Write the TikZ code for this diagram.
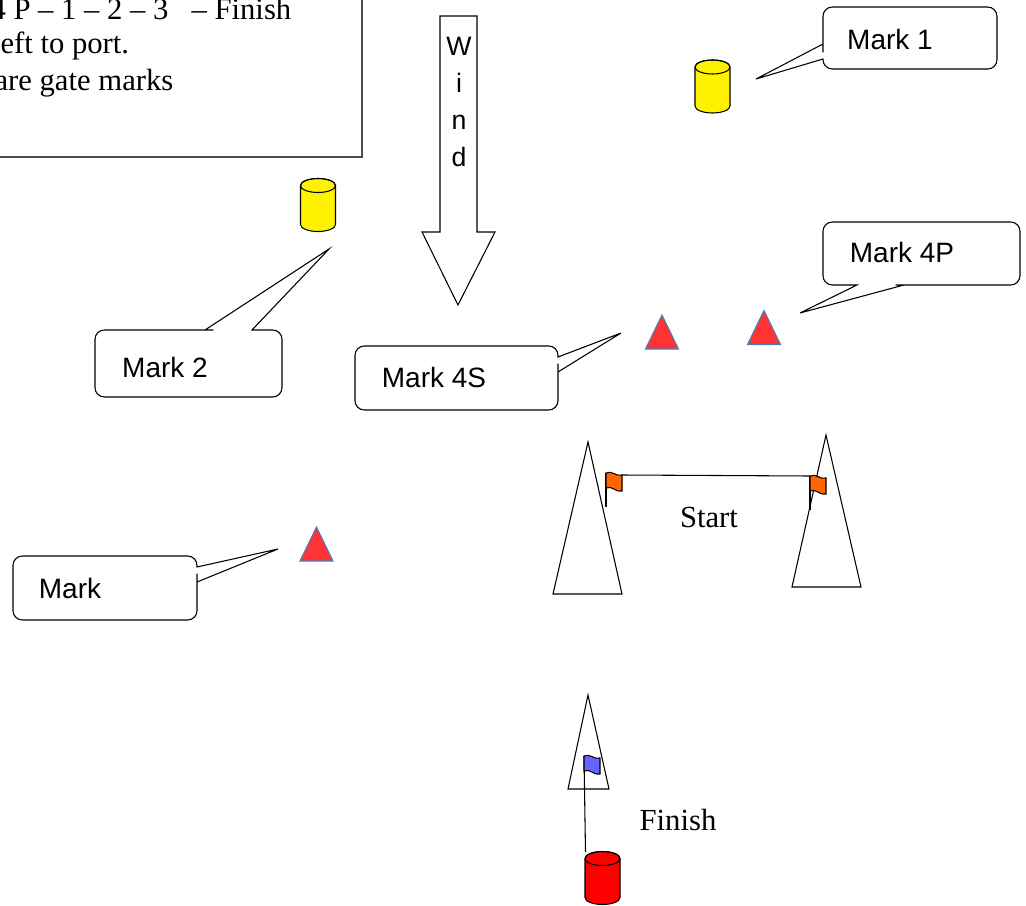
\documentclass[tikz,border=0pt]{standalone}
\usepackage{fontspec}
\setmainfont{Liberation Serif}
\setsansfont{Liberation Sans}

\definecolor{markred}{HTML}{FF3333}
\definecolor{markblue}{HTML}{4A7EBB}
\definecolor{flagorange}{HTML}{FF6600}
\definecolor{flagblue}{HTML}{6666FF}

\tikzset{
  callout/.style={draw, fill=white, line width=0.8pt},
  calltext/.style={font=\sffamily\fontsize{21}{25}\selectfont, inner sep=0pt},
  notetext/.style={font=\fontsize{23}{27}\selectfont, inner sep=0pt},
  gatemark/.style={fill=markred, draw=markblue, line width=0.8pt},
  cone/.style={draw, fill=white, line width=0.8pt},
  pics/buoy/.style={code={
    \draw[fill=#1, line width=0.8pt] (-17.5,-19.5) -- (-17.5,19.5)
      arc[start angle=180, end angle=0, x radius=17.5, y radius=7]
      -- (17.5,-19.5) arc[start angle=0, end angle=-180, x radius=17.5, y radius=7] -- cycle;
    \draw[line width=0.8pt] (0,-19.5) ellipse[x radius=17.5, y radius=7];
  }},
  pics/flag/.style={code={
    \draw[fill=#1, line width=0.8pt] (0,0) .. controls (6,-3) and (10,4) .. (16,2)
      -- (16,18) .. controls (10,20) and (6,12) .. (0,15) -- cycle;
  }}
}

\begin{document}
\begin{tikzpicture}[x=0.75pt, y=-0.75pt, line width=0.8pt]
  \useasboundingbox (0,0) rectangle (1026,906);

  % course note in the top left corner
  \draw[black!70] (-10,-10) rectangle (362,157);
  \node[notetext, anchor=base west] (course) at (-10,20) {4 P – 1 – 2 – 3\ \ \ – Finish};
  \node[notetext, anchor=base west] (port) at (0,54) {eft to port.};
  \node[notetext, anchor=base west] (gate) at (-6,91) {are gate marks};

  % wind arrow
  \draw (440,16) -- (477,16) -- (477,232) -- (495,232) -- (458,305) -- (422,232) -- (440,232) -- cycle;
  \node[font=\sffamily\fontsize{20}{27.75}\selectfont, align=center, inner sep=0pt] (wind) at (459,102) {W\\i\\n\\d};

  % yellow buoys, marks 1 and 2
  \pic at (712.5,86.5) {buoy=yellow};
  \pic at (318,205) {buoy=yellow};

  % red triangles, marks 4S, 4P and 3
  \foreach \x/\y in {662/332, 764/327.5, 316.5/544}
    \draw[gatemark] (\x-16.5,\y+17) -- (\x,\y-17) -- (\x+16.5,\y+17) -- cycle;

  % callouts
  \draw[callout] (823,59.5) [rounded corners=7pt] -- (823,69) -- (997,69) -- (997,7) -- (823,7) -- (823,43)
    [sharp corners] -- (823,44) -- (756,79) -- (823,59) -- cycle;
  \node[calltext] (mark1) at (890,39) {Mark 1};

  \draw[callout] (856,285) [rounded corners=7pt] -- (823,285) -- (823,222) -- (1020,222) -- (1020,285) -- (905,285)
    [sharp corners] -- (904,285) -- (800,313) -- (857,285) -- cycle;
  \node[calltext] (mark4p) at (902,252) {Mark 4P};

  \draw[callout] (558,356) [rounded corners=7pt] -- (558,346) -- (355,346) -- (355,410) -- (558,410) -- (558,373)
    [sharp corners] -- (558,372) -- (621,333) -- (558,357) -- cycle;
  \node[calltext] (mark4s) at (434,377) {Mark 4S};

  \draw[callout] (253,330) [rounded corners=7pt] -- (282,330) -- (282,397) -- (95,397) -- (95,330) -- (204,330)
    [sharp corners] -- (205,330) -- (329,249) -- (252,330) -- cycle;
  \node[calltext] (mark2) at (165,367) {Mark 2};

  \draw[callout] (197,566) [rounded corners=7pt] -- (197,556) -- (13,556) -- (13,620) -- (197,620) -- (197,583)
    [sharp corners] -- (197,582) -- (278,549) -- (197,567) -- cycle;
  \node[calltext] (mark3) at (70,588) {Mark};

  % start line between two boats
  \draw[cone] (553,594) -- (588,442) -- (622,594) -- cycle;
  \draw[cone] (792,587) -- (826,435) -- (861,587) -- cycle;
  \coordinate (flagL) at (606,473);
  \coordinate (flagR) at (810,476);
  \draw (flagL) -- ++(0,34);
  \draw (flagR) -- ++(0,34);
  \draw (flagL) ++(16,2) -- (flagR);
  \pic at (flagL) {flag=flagorange};
  \pic at (flagR) {flag=flagorange};
  \node[notetext] (start) at (709,517) {Start};

  % finish boat and buoy
  \draw[cone] (568,789) -- (588,695) -- (609,789) -- cycle;
  \coordinate (flagF) at (584,756);
  \coordinate (finishtop) at (585.5,852);
  \draw (flagF) -- (finishtop);
  \pic at (flagF) {flag=flagblue};
  \pic at (602.5,878) {buoy=red};
  \node[notetext] (finish) at (678,820) {Finish};
\end{tikzpicture}
\end{document}
